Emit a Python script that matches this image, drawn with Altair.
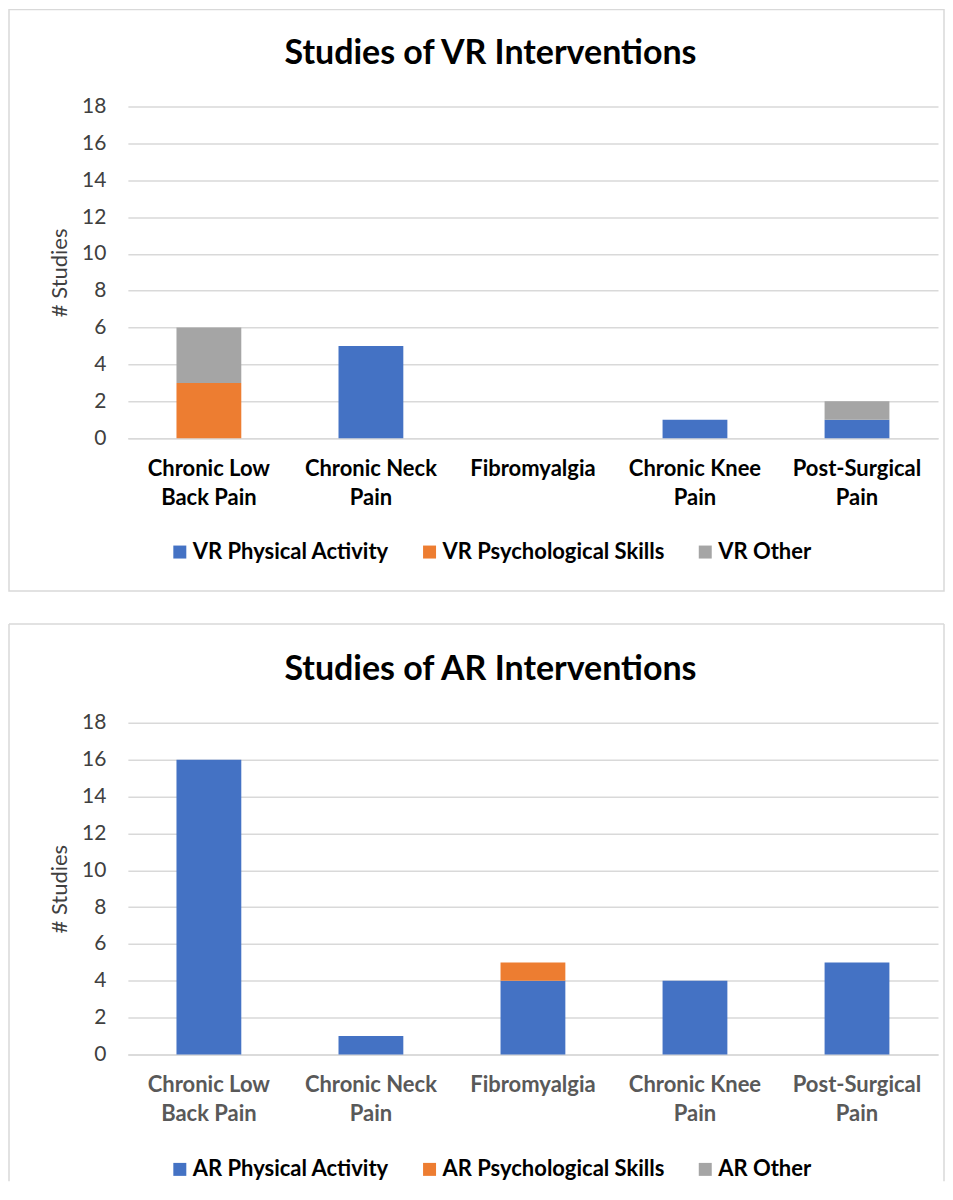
import altair as alt
import pandas as pd

# ---------------- data ----------------
categories = ["Chronic Low Back Pain", "Chronic Neck Pain", "Fibromyalgia",
              "Chronic Knee Pain", "Post-Surgical Pain"]
category_lines = [["Chronic Low", "Back Pain"], ["Chronic Neck", "Pain"], ["Fibromyalgia"],
                  ["Chronic Knee", "Pain"], ["Post-Surgical", "Pain"]]

vr_title = "Studies of VR Interventions"
vr_series = ["VR Physical Activity", "VR Psychological Skills", "VR Other"]
vr_physical = [0, 5, 0, 1, 1]
vr_psych = [3, 0, 0, 0, 0]
vr_other = [3, 0, 0, 0, 1]

ar_title = "Studies of AR Interventions"
ar_series = ["AR Physical Activity", "AR Psychological Skills", "AR Other"]
ar_physical = [16, 1, 4, 4, 5]
ar_psych = [0, 0, 1, 0, 0]
ar_other = [0, 0, 0, 0, 0]

y_ticks = [0, 2, 4, 6, 8, 10, 12, 14, 16, 18]
series_colors = ["#4472C4", "#ED7D31", "#A5A5A5"]

# ---------------- style ----------------
FONT = "Lato"
GRID = "#D9D9D9"
W, H = 811, 332
FRAME_L, FRAME_R = -119, 817

label_expr = ""
for cat, lines in zip(categories, category_lines):
    arr = "[" + ",".join("'" + l + "'" for l in lines) + "]"
    label_expr += f"datum.label == '{cat}' ? {arr} : "
label_expr += "datum.label"


def make_panel(title, series, values, x_label_color, closed_frame, legend_y):
    rows = []
    for si, (name, vals) in enumerate(zip(series, values)):
        for ci, cat in enumerate(categories):
            rows.append({"category": cat, "series": name, "order": si, "count": vals[ci]})
    df = pd.DataFrame(rows)

    bars = alt.Chart(df).mark_bar().encode(
        x=alt.X("category:N", sort=categories,
                scale=alt.Scale(paddingInner=0.6, paddingOuter=0.3),
                axis=alt.Axis(title=None, labelAngle=0, labelExpr=label_expr,
                              labelColor=x_label_color, labelFont=FONT,
                              labelFontWeight="bold", labelFontSize=22,
                              labelLineHeight=29, labelPadding=20,
                              domainColor=GRID, domainWidth=1.5, ticks=False)),
        y=alt.Y("count:Q", stack="zero", scale=alt.Scale(domain=[0, 18], nice=False),
                axis=alt.Axis(title="# Studies", values=y_ticks, grid=True,
                              gridColor=GRID, gridWidth=1.5, domain=False, ticks=False,
                              labelFont=FONT, labelFontSize=21, labelColor="#404040",
                              labelPadding=22, titleFont=FONT, titleFontSize=22,
                              titleFontWeight="normal", titleColor="#404040",
                              titlePadding=10)),
        color=alt.Color("series:N", sort=series,
                        scale=alt.Scale(domain=series, range=series_colors),
                        legend=alt.Legend(title=None, orient="none", direction="horizontal",
                                          legendX=41, legendY=legend_y, symbolType="square",
                                          symbolSize=169, symbolStrokeWidth=0,
                                          labelFont=FONT, labelFontSize=22, labelLimit=0,
                                          labelFontWeight="bold", labelColor="#000000",
                                          labelOffset=2, columnPadding=29, padding=0)),
        order=alt.Order("order:Q", sort="ascending"),
    )

    one = pd.DataFrame({"k": [0]})
    title_mark = alt.Chart(one).mark_text(
        font=FONT, fontSize=34, fontWeight="bold", color="#000000",
        align="center", baseline="middle"
    ).encode(x=alt.value(363), y=alt.value(-53), text=alt.value(title))

    if closed_frame:
        frame = alt.Chart(one).mark_rect(
            fillOpacity=0, stroke=GRID, strokeWidth=1.5
        ).encode(x=alt.value(FRAME_L), x2=alt.value(FRAME_R), y=alt.value(-97), y2=alt.value(485))
        layers = [frame, bars, title_mark]
    else:
        top = alt.Chart(one).mark_rule(color=GRID, strokeWidth=1.5).encode(
            x=alt.value(FRAME_L), x2=alt.value(FRAME_R), y=alt.value(-99))
        left = alt.Chart(one).mark_rule(color=GRID, strokeWidth=1.5).encode(
            x=alt.value(FRAME_L), y=alt.value(-99), y2=alt.value(459))
        right = alt.Chart(one).mark_rule(color=GRID, strokeWidth=1.5).encode(
            x=alt.value(FRAME_R), y=alt.value(-99), y2=alt.value(459))
        layers = [top, left, right, bars, title_mark]

    return alt.layer(*layers).properties(width=W, height=H)


top_panel = make_panel(vr_title, vr_series, [vr_physical, vr_psych, vr_other], "#000000", True, 435)
bottom_panel = make_panel(ar_title, ar_series, [ar_physical, ar_psych, ar_other], "#595959", False, 436)

chart = alt.vconcat(top_panel, bottom_panel, spacing=31).resolve_scale(
    color="independent", x="independent", y="independent"
).resolve_legend(color="independent").properties(
    padding=0, background="#FFFFFF"
).configure_view(stroke=None)

chart.save("out.html", embed_options={"renderer": "svg", "actions": False})
